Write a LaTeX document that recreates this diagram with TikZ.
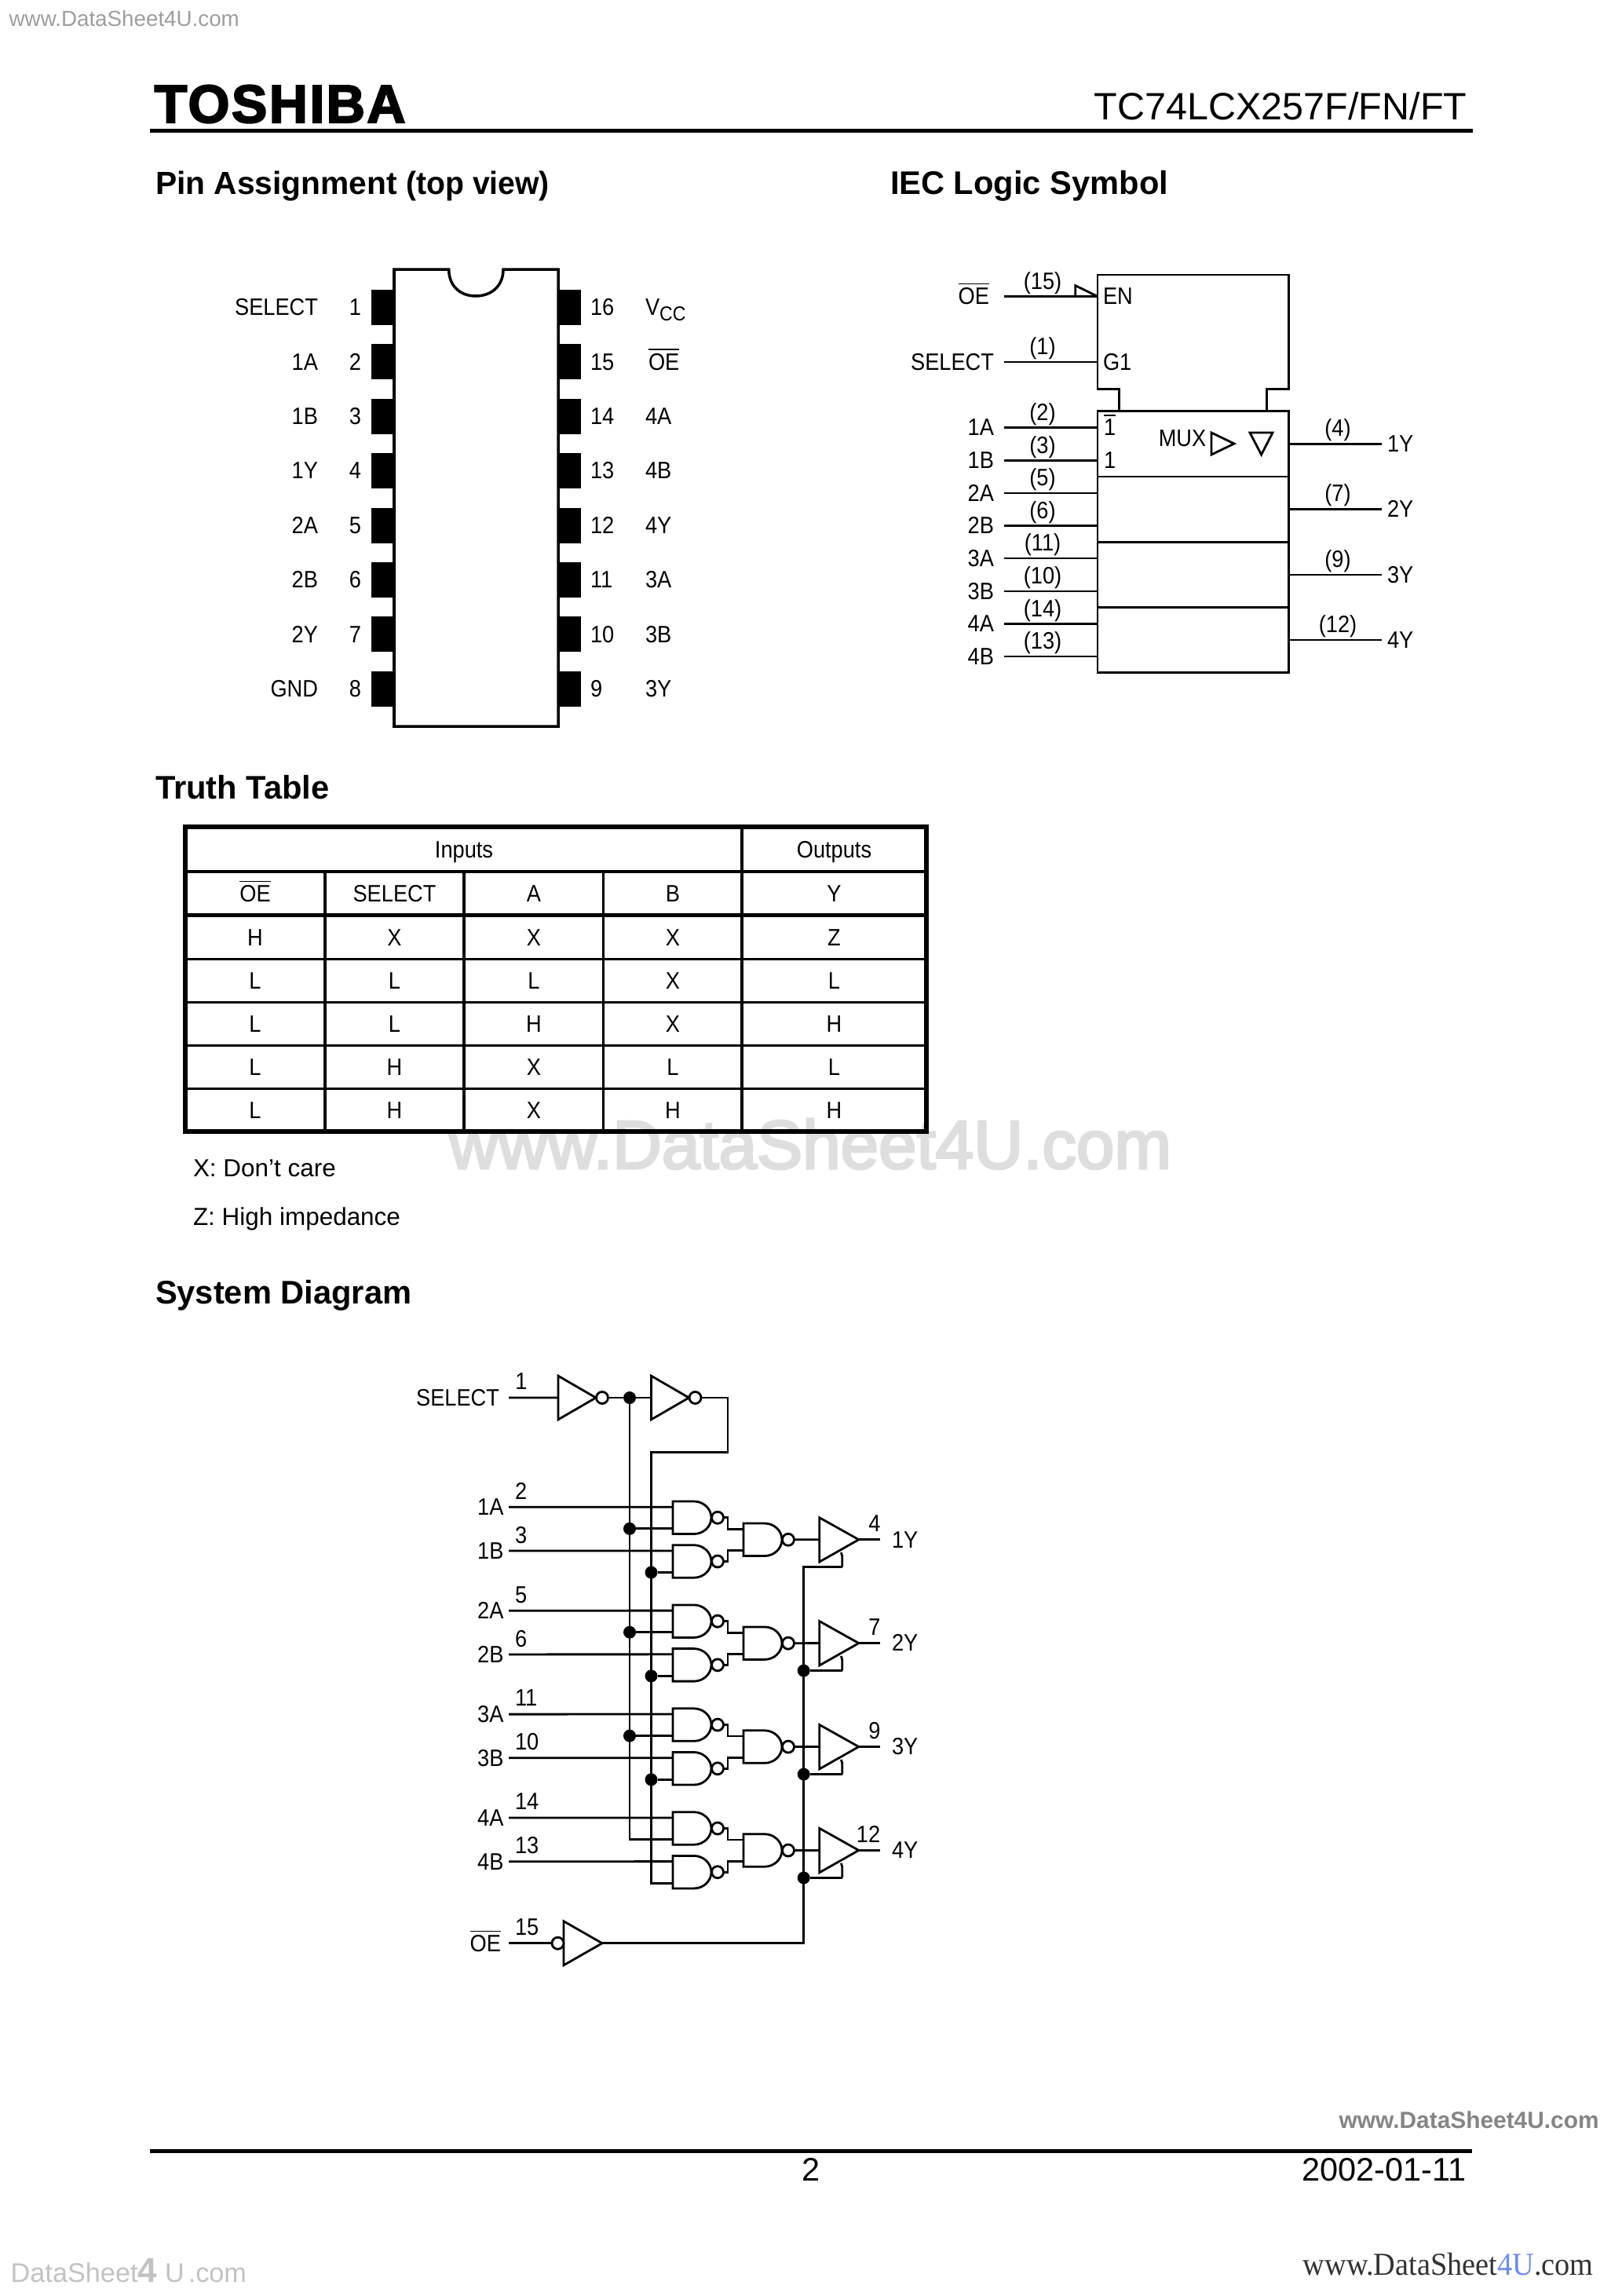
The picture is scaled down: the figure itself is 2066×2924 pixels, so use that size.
\documentclass[tikz,border=0pt]{standalone}
\usepackage{fontspec}
\setmainfont{Liberation Sans}
\newfontfamily\labf[FakeStretch=0.9]{Liberation Sans}
\newfontfamily\logof[FakeBold=3,LetterSpace=3.5]{Liberation Sans Bold}
\newfontfamily\serf[FakeStretch=0.94]{Liberation Serif}
\newfontfamily\wmboldf{Liberation Sans Bold}
\newfontfamily\wmmidf[FakeBold=3.5]{Liberation Sans}
\newfontfamily\headn[FakeStretch=0.96]{Liberation Sans Bold}
\newcommand{\ovl}[1]{\ensuremath{\overline{\hbox{#1}}}}
\definecolor{wmblue}{HTML}{6C8CF0}
\tikzset{
  wire/.style={line width=0.8pt,line cap=butt,line join=miter},
  txt/.style={inner sep=0pt,outer sep=0pt,font=\labf\fontsize{8.6}{10}\selectfont,yshift=-0.1mm},
  lc/.style={txt,anchor=mid},
  ll/.style={txt,anchor=mid west},
  lr/.style={txt,anchor=mid east},
  note/.style={inner sep=0pt,outer sep=0pt,anchor=mid west,font=\fontsize{8.95}{10}\selectfont,yshift=-0.1mm},
  head/.style={inner sep=0pt,outer sep=0pt,anchor=base west,font=\bfseries\fontsize{11.85}{14}\selectfont},
  dot/.style={circle,fill=black,inner sep=0pt,minimum size=1.6mm,outer sep=0pt},
  bubble/.style={wire,fill=white},
  nandgate/.pic={
    \draw[wire] (27,0) -- (0,0) -- (0,41.5) -- (27,41.5)
      .. controls (39,41.5) and (49,32) .. (49,20.75)
      .. controls (49,9.5) and (39,0) .. (27,0) -- cycle;
    \draw[bubble] (57,20.75) circle[radius=0.75mm];
    \coordinate (-a) at (0,7.2);
    \coordinate (-b) at (0,34.8);
    \coordinate (-o) at (64.5,20.75);
  },
  inverter/.pic={
    \draw[wire] (0,0) -- (48,27.8) -- (0,55.6) -- cycle;
    \draw[bubble] (56,27.8) circle[radius=0.75mm];
    \coordinate (-i) at (0,27.8);
    \coordinate (-o) at (63.5,27.8);
  },
  tribuf/.pic={
    \draw[wire] (0,0) -- (50,28) -- (0,56.3) -- cycle;
    \draw[wire] (27.6,44.4) .. controls (29,47) and (29,50) .. (29,54) -- (29,63);
    \coordinate (-i) at (0,28);
    \coordinate (-o) at (50,28);
    \coordinate (-e) at (29,63);
  },
  oebuffer/.pic={
    \draw[wire] (0,0) -- (49,28) -- (0,56) -- cycle;
    \draw[bubble] (-7.5,28) circle[radius=0.75mm];
    \coordinate (-i) at (-15,28);
    \coordinate (-o) at (49,28);
  }
}
\begin{document}
\begin{tikzpicture}[x=0.1mm,y=-0.1mm]
\path[fill=white,use as bounding box] (0,0) rectangle (2066,2924);

% page furniture
\node[inner sep=0pt,anchor=base west,text=black!38,font=\fontsize{7.9}{10}\selectfont] (wmtop) at (11,33) {www.DataSheet4U.com};
\node[inner sep=0pt,anchor=base west,font=\logof\fontsize{19.4}{22}\selectfont] (logo) at (196,156) {TOSHIBA};
\node[inner sep=0pt,anchor=base east,font=\fontsize{13.8}{16}\selectfont] (partno) at (1869,152.5) {TC74LCX257F/FN/FT};
\fill[black] (191,164) rectangle (1876,168.5);
\node[head,font=\bfseries\fontsize{11.6}{14}\selectfont] (h1) at (198,247) {Pin Assignment {\headn(top view)}};
\node[head] (h2) at (1134,247) {IEC Logic Symbol};
\node[head] (h3) at (198,1017) {Truth Table};
\node[head] (h4) at (198,1660) {System Diagram};
\node[inner sep=0pt,anchor=base west,text=black!13,font=\wmmidf\fontsize{24.8}{28}\selectfont] (wmmid) at (571,1488) {www.DataSheet4U.com};

% ---- pin assignment
\draw[line width=1pt] (502,925) -- (502,343) -- (571.7,343)
  .. controls (571.7,364) and (586,377) .. (606,377)
  .. controls (626,377) and (641,364) .. (641,343)
  -- (711,343) -- (711,925) -- cycle;
\foreach \n/\name [count=\i from 0] in {1/SELECT,2/1A,3/1B,4/1Y,5/2A,6/2B,7/2Y,8/GND}{
  \pgfmathsetmacro\yy{391.5+69.4*\i}
  \fill[black] (473,\yy-22.5) rectangle (503,\yy+22.5);
  \node[lr] (pl\n) at (405,\yy) {\name};
  \node[lc] (pn\n) at (452.5,\yy) {\n};
}
\foreach \n/\name [count=\i from 0] in {16/V\raisebox{-0.7mm}{\fontsize{7.3}{8}\selectfont CC},15/\ovl{OE},14/4A,13/4B,12/4Y,11/3A,10/3B,9/3Y}{
  \pgfmathsetmacro\yy{391.5+69.4*\i}
  \fill[black] (710,\yy-22.5) rectangle (739.6,\yy+22.5);
  \node[ll] (pn\n) at (752,\yy) {\n};
  \node[ll] (pr\n) at (\ifnum\i=1 826\else 822\fi,\yy) {\name};
}

% ---- IEC symbol
\coordinate (ul) at (1398,350);
\coordinate (ur) at (1641.5,350);
\node[draw,wire,inner sep=0pt,outer sep=0pt,minimum width=24.35mm,minimum height=33.3mm,anchor=north west] (mux) at (1398,523.6) {};
\draw[wire] (mux.north west -| 1425.7,0) -- (1425.7,495.6) -- (1398,495.6) -- (ul) -- (ur) -- (1641.5,495.6) -- (1613.5,495.6) -- (mux.north west -| 1613.5,0);
\draw[wire] (mux.west |- 0,607) -- (mux.east |- 0,607);
\draw[wire] (mux.west |- 0,690.5) -- (mux.east |- 0,690.5);
\draw[wire] (mux.west |- 0,773.8) -- (mux.east |- 0,773.8);
\foreach \id/\yy/\name/\n/\lx in {oe/377.5/\ovl{OE}/(15)/1260,sel/461/SELECT/(1)/1266,a1/544.4/1A/(2)/1266,b1/586.5/1B/(3)/1266,a2/628/2A/(5)/1266,b2/669.5/2B/(6)/1266,a3/711/3A/(11)/1266,b3/753/3B/(10)/1266,a4/794.5/4A/(14)/1266,b4/836/4B/(13)/1266}{
  \coordinate (iw\id) at (1279,\yy);
  \coordinate (ie\id) at (1398,\yy);
  \draw[wire] (iw\id) -- (ie\id);
  \node[lr] (il\id) at (\lx,\yy) {\name};
  \node[lc] (in\id) at (1328,\yy-19.5) {\n};
}
\foreach \id/\yy/\name/\n in {1/565.5/1Y/(4),2/648.4/2Y/(7),3/732/3Y/(9),4/815/4Y/(12)}{
  \coordinate (ow\id) at (1641.5,\yy);
  \coordinate (oe\id) at (1760,\yy);
  \draw[wire] (ow\id) -- (oe\id);
  \node[ll] (ol\id) at (1767,\yy) {\name};
  \node[lc] (on\id) at (1704,\yy-20) {\n};
}
\draw[wire] (1369.7,377.5) -- (1369.7,363.6) -- (ieoe);
\node[ll] (en) at (1405,377.5) {EN};
\node[ll] (g1) at (1405,461) {G1};
\node[ll] (m1) at (1406,544.4) {\ovl{1}};
\node[ll] (m2) at (1406,586.5) {1};
\node[lc] (muxl) at (1506,558) {MUX};
\draw[wire] (1543,551) -- (1572,565) -- (1543,579) -- cycle;
\draw[wire] (1592,551) -- (1621,551) -- (1606.6,579) -- cycle;

% ---- truth table
\foreach \yy in {1110,1221.5,1276.5,1331.5,1386.5}{
  \draw[line width=1pt] (236,\yy) -- (1180,\yy);
}
\draw[line width=1.4pt] (236,1165.7) -- (1180,1165.7);
\foreach \xx in {414,591,768.4}{
  \draw[line width=1pt] (\xx,1110) -- (\xx,1441);
}
\draw[line width=1pt] (945,1053) -- (945,1441);
\draw[line width=1.6pt] (236,1053) rectangle (1180,1441);
\node[lc] (tinp) at (591,1082) {Inputs};
\node[lc] (tout) at (1062.5,1082) {Outputs};
\foreach \name/\xx [count=\c] in {\ovl{OE}/325,SELECT/502.5,A/680,B/857,Y/1062.5}{
  \node[lc] (th\c) at (\xx,1138) {\name};
}
\foreach \ca/\cb/\cc/\cd/\ce [count=\r from 0] in {H/X/X/X/Z,L/L/L/X/L,L/L/H/X/H,L/H/X/L/L,L/H/X/H/H}{
  \pgfmathsetmacro\yy{1193.7+55*\r}
  \node[lc] (t\r a) at (325,\yy) {\ca};
  \node[lc] (t\r b) at (502.5,\yy) {\cb};
  \node[lc] (t\r c) at (680,\yy) {\cc};
  \node[lc] (t\r d) at (857,\yy) {\cd};
  \node[lc] (t\r e) at (1062.5,\yy) {\ce};
}
\node[note] (nx) at (246,1488) {X: Don’t care};
\node[note] (nz) at (246,1550) {Z: High impedance};

% ---- system diagram
\coordinate (kx) at (927,0);
\node[lr] (ssel) at (636,1780) {SELECT};
\node[lc] (snsel) at (664,1759) {1};
\coordinate (selin) at (648,1780);
\pic (inv1) at (711,1752.2) {inverter};
\pic (inv2) at (829.5,1752.2) {inverter};
\node[dot] (dsel) at (802,1780) {};
\draw[wire] (selin) -- (inv1-i);
\draw[wire] (inv1-o) -- (inv2-i);
\foreach \b/\na/\nb/\ny/\pa/\pb/\po/\px in {0/1A/1B/1Y/2/3/4/1114,1/2A/2B/2Y/5/6/7/1114,2/3A/3B/3Y/11/10/9/1114,3/4A/4B/4Y/14/13/12/1106}{
  \pgfmathsetmacro\yo{131.9*\b}
  \pic (ga\b) at (857,1912+\yo) {nandgate};
  \pic (gb\b) at (857,1967.7+\yo) {nandgate};
  \pic (gc\b) at (947,1940+\yo) {nandgate};
  \pic (bf\b) at (1043.8,1932.7+\yo) {tribuf};
  \coordinate (ina\b) at (648,1919.3+\yo);
  \coordinate (inb\b) at (648,1975+\yo);
  \coordinate (out\b) at (1121.4,1960.7+\yo);
  \draw[wire] (ina\b) -- (ga\b-a);
  \draw[wire] (inb\b) -- (gb\b-a);
  \draw[wire] (ga\b-o) -- (kx |- ga\b-o) -- (kx |- gc\b-a) -- (gc\b-a);
  \draw[wire] (gb\b-o) -- (kx |- gb\b-o) -- (kx |- gc\b-b) -- (gc\b-b);
  \draw[wire] (gc\b-o) -- (bf\b-i);
  \draw[wire] (bf\b-o) -- (out\b);
  \node[lr] (sa\b) at (641.5,1919.3+\yo) {\na};
  \node[lr] (sb\b) at (641.5,1975+\yo) {\nb};
  \node[ll] (sy\b) at (1136,1960.7+\yo) {\ny};
  \node[anchor=mid west,txt] (npa\b) at (656,1898.8+\yo) {\pa};
  \node[anchor=mid west,txt] (npb\b) at (656,1954.8+\yo) {\pb};
  \node[lc] (npo\b) at (\px,1940.5+\yo) {\po};
}
\coordinate (busb) at (829.5,1849.7);
\draw[wire] (inv2-o) -- (kx |- inv2-o) -- (kx |- busb) -- (busb) -- (busb |- gb3-b) -- (gb3-b);
\draw[wire] (dsel) -- (dsel |- ga3-b) -- (ga3-b);
\foreach \b in {0,1,2}{
  \node[dot] (da\b) at (dsel |- ga\b-b) {};
  \node[dot] (db\b) at (busb |- gb\b-b) {};
  \draw[wire] (da\b) -- (ga\b-b);
  \draw[wire] (db\b) -- (gb\b-b);
}
\coordinate (enx) at (1023.7,0);
\pic (oeb) at (718,2446.7) {oebuffer};
\coordinate (oein) at (648.4,2474.7);
\node[lr] (soe) at (638,2475) {\ovl{OE}};
\node[anchor=mid west,txt] (snoe) at (656,2454) {15};
\draw[wire] (oein) -- (oeb-i);
\draw[wire] (oeb-o) -- (enx |- oeb-o) -- (enx |- bf0-e) -- (bf0-e);
\foreach \b in {1,2,3}{
  \node[dot] (de\b) at (enx |- bf\b-e) {};
  \draw[wire] (de\b) -- (bf\b-e);
}

% ---- footer
\fill[black] (191,2737) rectangle (1875,2741.5);
\node[inner sep=0pt,anchor=base,font=\fontsize{11.8}{14}\selectfont] (pg) at (1033,2777) {2};
\node[inner sep=0pt,anchor=base east,font=\fontsize{11.8}{14}\selectfont] (date) at (1868,2777) {2002-01-11};
\node[inner sep=0pt,anchor=base west,text=black!48,font=\wmboldf\fontsize{8.5}{10}\selectfont] (wmbr) at (1705,2710) {www.DataSheet4U.com};
\node[inner sep=0pt,anchor=base west,text=black!80,font=\serf\fontsize{11.6}{15}\selectfont] (wmbb) at (1659,2897) {www.DataSheet\textcolor{wmblue}{4U}.com};
\node[inner sep=0pt,anchor=base west,text=black!24,font=\fontsize{9.75}{12}\selectfont] (wmbl) at (13,2906) {DataSheet{\bfseries\fontsize{12.5}{14}\selectfont 4}\kern1mm U\kern0.5mm .com};
\end{tikzpicture}
\end{document}
